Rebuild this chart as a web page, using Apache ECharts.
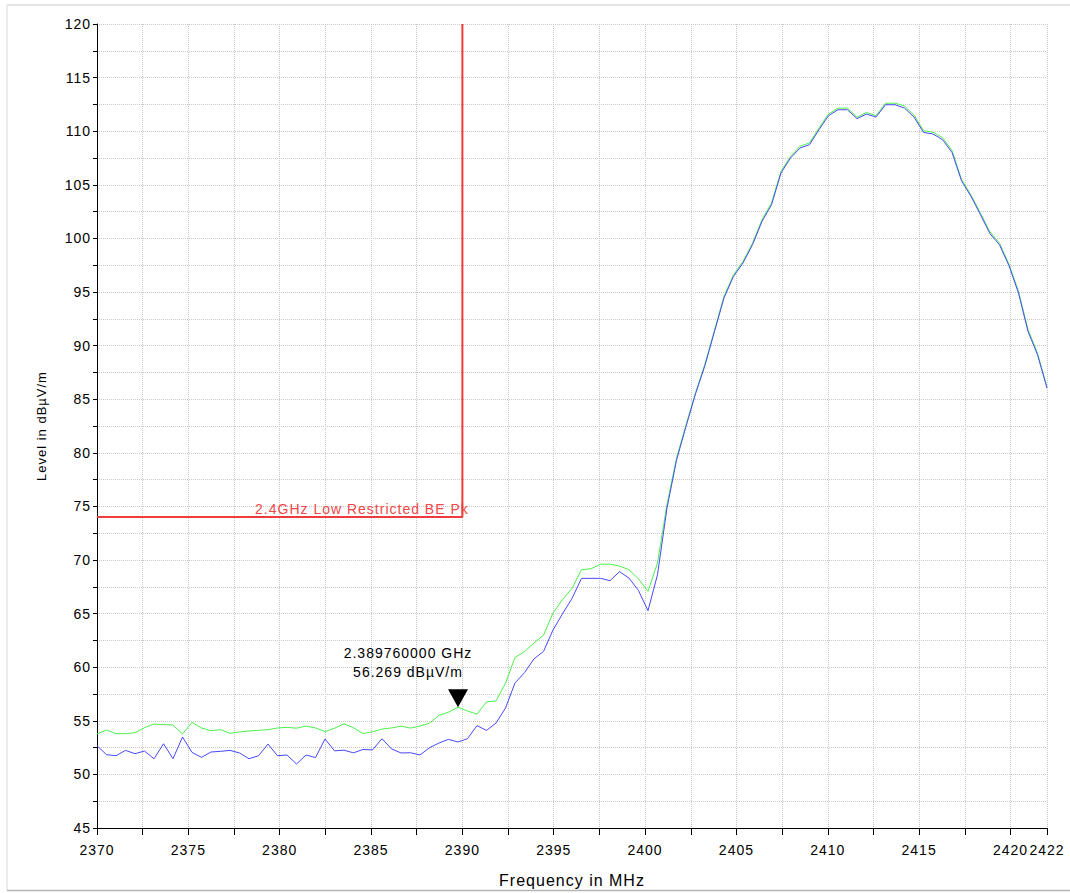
<!DOCTYPE html>
<html><head><meta charset="utf-8">
<script src="https://cdn.jsdelivr.net/npm/echarts@6/dist/echarts.min.js"></script>
<style>
html,body{margin:0;padding:0;background:#fff;}
#chart{width:1070px;height:893px;}
#chart text{letter-spacing:1px;}
</style></head><body><div id="chart"></div>
<script>
const freqStartMHz = 2370;
const freqStepMHz = 0.52;
const peakLevels = [
53.77,54.14,53.80,53.80,53.89,54.36,54.70,54.64,54.61,53.77,
54.85,54.33,54.08,54.17,53.83,53.96,54.05,54.11,54.17,54.33,
54.39,54.31,54.51,54.33,54.00,54.30,54.72,54.35,53.81,53.98,
54.23,54.33,54.50,54.32,54.51,54.78,55.51,55.80,56.269,55.91,
55.62,56.77,56.85,58.50,60.91,61.46,62.25,62.99,65.06,66.30,
67.36,69.10,69.18,69.61,69.61,69.44,69.09,68.24,67.08,69.72,
75.2,79.5,82.6,85.6,88.3,91.45,94.6,96.6,97.85,99.55,
101.75,103.3,106.25,107.65,108.6,108.9,110.3,111.6,112.15,112.15,
111.3,111.75,111.45,112.6,112.62,112.35,111.5,110.05,109.9,109.4,
108.2,105.5,104.05,102.35,100.6,99.55,97.6,95.05,91.5,89.3,
86.1];
const avgLevels = [
52.68,51.84,51.74,52.24,51.93,52.18,51.46,52.86,51.46,53.49,
52.05,51.59,52.09,52.15,52.24,52.00,51.46,51.74,52.83,51.74,
51.81,50.97,51.81,51.57,53.30,52.20,52.26,52.01,52.33,52.28,
53.33,52.38,52.00,52.02,51.81,52.49,52.93,53.27,53.02,53.33,
54.55,54.10,54.79,56.19,58.53,59.49,60.78,61.47,63.47,64.98,
66.41,68.29,68.29,68.29,68.07,68.91,68.32,67.15,65.27,68.63,
74.85,79.3,82.46,85.49,88.16,91.32,94.45,96.46,97.71,99.41,
101.59,103.14,106.10,107.50,108.43,108.74,110.14,111.45,112.0,112.0,
111.17,111.6,111.32,112.47,112.47,112.16,111.32,109.89,109.74,109.21,
108.02,105.38,103.92,102.21,100.43,99.41,97.45,94.9,91.32,89.15,
86.04];
const frequencies = peakLevels.map((_, i) => +(freqStartMHz + i * freqStepMHz).toFixed(2));
const limitLine = [[2370, 74], [2390, 74], [2390, 120]];
const limitName = '2.4GHz Low Restricted BE Pk';
const limitLabelAt = [2384.5, 74];
const markerPoint = [2389.76, 56.269];
const markerText = ['2.389760000 GHz', '56.269 dBµV/m'];
const xTickLabels = [2370, 2375, 2380, 2385, 2390, 2395, 2400, 2405, 2410, 2415, 2420, 2422];
const yTickLabels = [45, 50, 55, 60, 65, 70, 75, 80, 85, 90, 95, 100, 105, 110, 115, 120];

const chart = echarts.init(document.getElementById('chart'), null, {renderer: 'svg'});
const font = 'Liberation Sans, Arial, sans-serif';
const gridLine = {show: true, lineStyle: {color: '#c8c8c8', type: [1, 1], width: 1}};
chart.setOption({
  animation: false,
  backgroundColor: '#fff',
  graphic: [
    {type: 'line', shape: {x1: 7, y1: 5, x2: 1070, y2: 5}, style: {stroke: '#e4e4e4', lineWidth: 2}},
    {type: 'line', shape: {x1: 7, y1: 5, x2: 7, y2: 890}, style: {stroke: '#d8d8d8', lineWidth: 1}},
    {type: 'line', shape: {x1: 7, y1: 890.5, x2: 1070, y2: 890.5}, style: {stroke: '#b4b4b4', lineWidth: 1.5}}
  ],
  grid: {left: 97, right: 23, top: 24, bottom: 65, containLabel: false, outerBoundsMode: 'none'},
  xAxis: {
    type: 'value', min: 2370, max: 2422, interval: 2.5,
    name: 'Frequency in MHz', nameLocation: 'middle', nameGap: 44,
    nameTextStyle: {fontFamily: font, fontSize: 16, color: '#000'},
    axisLine: {show: true, lineStyle: {color: '#000', width: 1}},
    axisTick: {show: true, length: 7, lineStyle: {color: '#000'}},
    axisLabel: {
      margin: 15, fontFamily: font, fontSize: 14, color: '#000', showMaxLabel: true, showMinLabel: true,
      formatter: v => xTickLabels.includes(v) ? String(v) : ''
    },
    splitLine: gridLine
  },
  yAxis: {
    type: 'value', min: 45, max: 120, interval: 2.5,
    name: 'Level in dBµV/m', nameLocation: 'middle', nameGap: 49, nameRotate: 90,
    nameTextStyle: {fontFamily: font, fontSize: 13, color: '#000'},
    axisLine: {show: true, lineStyle: {color: '#000', width: 1}},
    axisTick: {show: true, length: 4, lineStyle: {color: '#000'}},
    axisLabel: {
      margin: 6, fontFamily: font, fontSize: 14, color: '#000',
      formatter: v => yTickLabels.includes(v) ? String(v) : ''
    },
    splitLine: gridLine
  },
  series: [
    {
      name: 'Peak', type: 'line', showSymbol: false, symbol: 'none',
      data: frequencies.map((f, i) => [f, peakLevels[i]]),
      lineStyle: {color: '#4cf04c', width: 1}, z: 3
    },
    {
      name: 'Average', type: 'line', showSymbol: false, symbol: 'none',
      data: frequencies.map((f, i) => [f, avgLevels[i]]),
      lineStyle: {color: '#4848ff', width: 1}, z: 4
    },
    {
      name: 'Limit', type: 'line', showSymbol: false, symbol: 'none',
      data: limitLine,
      lineStyle: {color: '#ee3b3b', width: 2}, z: 5,
      markPoint: {
        symbol: 'circle', symbolSize: 0,
        data: [{coord: limitLabelAt, value: limitName}],
        label: {show: true, position: 'top', distance: 1, formatter: limitName,
          fontFamily: font, fontSize: 14, color: '#f04848'}
      }
    },
    {
      name: 'Marker', type: 'line', showSymbol: false, symbol: 'none',
      data: [], z: 6,
      markPoint: {
        symbol: 'path://M0,0 L20,0 L10,18 Z', symbolSize: [20, 18], symbolOffset: [0, '-50%'],
        itemStyle: {color: '#000'},
        data: [{coord: markerPoint}],
        label: {show: true, position: 'top', distance: 8, offset: [-50, 0],
          formatter: markerText.join('\n'), lineHeight: 19, align: 'center',
          fontFamily: font, fontSize: 14, color: '#000'}
      }
    }
  ]
});
</script></body></html>
